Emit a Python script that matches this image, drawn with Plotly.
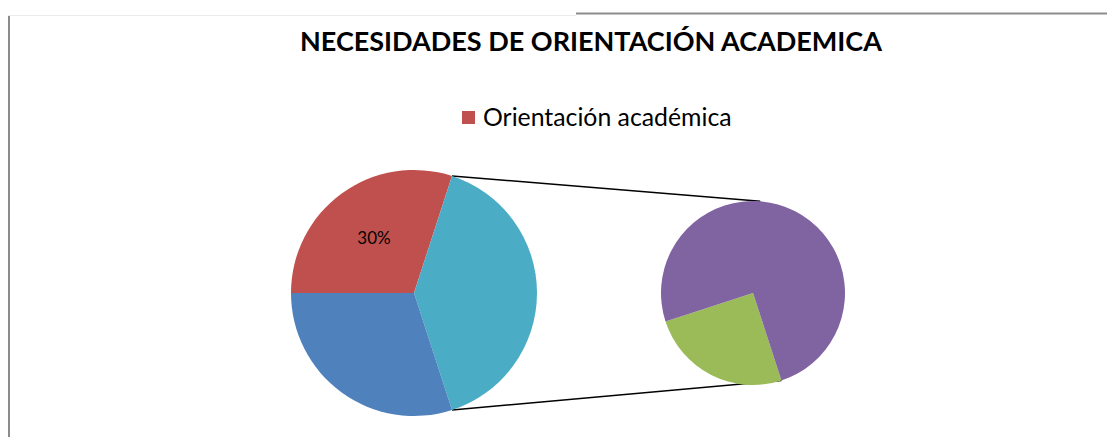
import math
import plotly.graph_objects as go

# ---- data ----
main_labels = ["Orientación académica", "Otro", "Otros (detalle)"]
main_values = [30, 40, 30]          # red, teal (split), blue
main_text = ["30%", "", ""]
main_colors = ["#C0504D", "#4BACC6", "#4F81BD"]

sub_labels = ["Detalle A", "Detalle B"]
sub_values = [10, 30]               # green, purple
sub_colors = ["#9BBB59", "#8064A2"]

title_text = "NECESIDADES DE ORIENTACIÓN ACADEMICA"
legend_text = "Orientación académica"

# page has an 8px body margin; work in window pixels and convert
OFF = 8
W, H = 1115 - OFF, 437 - OFF

def fx(x): return x - OFF
def fy(y): return y - OFF
def px(x): return fx(x) / W
def py(y): return (H - fy(y)) / H

# ---- layout geometry (window pixels) ----
c1 = (414, 293); r1 = 123
c2 = (753, 293); r2 = 92

def dom(c, r):
    return dict(x=[px(c[0] - r), px(c[0] + r)],
                y=[py(c[1] + r), py(c[1] - r)])

main_rot = 270   # first slice starts at 9 o'clock, clockwise
sub_rot = 162

fig = go.Figure()
fig.add_trace(go.Pie(
    labels=main_labels, values=main_values, text=main_text,
    textinfo="text", textposition="inside", insidetextorientation="horizontal",
    textfont=dict(family="Lato", size=17, color="#000000"),
    marker=dict(colors=main_colors, line=dict(width=0)),
    sort=False, direction="clockwise", rotation=main_rot,
    domain=dom(c1, r1), showlegend=False, hoverinfo="label+percent",
))
fig.add_trace(go.Pie(
    labels=sub_labels, values=sub_values, textinfo="none",
    marker=dict(colors=sub_colors, line=dict(width=0)),
    sort=False, direction="clockwise", rotation=sub_rot,
    domain=dom(c2, r2), showlegend=False, hoverinfo="label+value",
))

# connector lines computed from the split slice angles
tot = sum(main_values)
a_start = (main_rot + main_values[0] / tot * 360) % 360
a_end = a_start + main_values[1] / tot * 360

def pt(c, r, ang):
    a = math.radians(ang)
    return (c[0] + r * math.sin(a), c[1] - r * math.cos(a))

p1 = pt(c1, r1, a_start); p2 = pt(c1, r1, a_end)
q1 = pt(c2, r2, 4.5); q2 = pt(c2, r2, sub_rot)

shapes = [
    dict(type="line", xref="paper", yref="paper", x0=px(p1[0]), y0=py(p1[1]),
         x1=px(q1[0]), y1=py(q1[1]), line=dict(color="#000000", width=1.5), layer="below"),
    dict(type="line", xref="paper", yref="paper", x0=px(p2[0]), y0=py(p2[1]),
         x1=px(q2[0]), y1=py(q2[1]), line=dict(color="#000000", width=1.5), layer="below"),
    # frame lines
    dict(type="line", xref="paper", yref="paper", x0=px(9), y0=py(15), x1=px(9), y1=0,
         line=dict(color="#8C8C8C", width=2)),
    dict(type="line", xref="paper", yref="paper", x0=px(8), y0=py(15.5), x1=px(576), y1=py(15.5),
         line=dict(color="#EBEBEB", width=1)),
    dict(type="line", xref="paper", yref="paper", x0=px(576), y0=py(13.5), x1=1, y1=py(13.5),
         line=dict(color="#8C8C8C", width=2)),
    # legend marker
    dict(type="rect", xref="paper", yref="paper", x0=px(462), y0=py(124), x1=px(475), y1=py(111),
         fillcolor=main_colors[0], line=dict(width=0)),
]

annotations = [
    dict(text="<b>" + title_text + "</b>", xref="paper", yref="paper", x=px(591), y=py(40),
         xanchor="center", yanchor="middle", showarrow=False,
         font=dict(family="Lato", size=27, color="#000000")),
    dict(text=legend_text, xref="paper", yref="paper", x=px(481), y=py(117),
         xanchor="left", yanchor="middle", showarrow=False,
         font=dict(family="Lato", size=24.8, color="#000000")),
]

fig.update_layout(
    width=W, height=H, margin=dict(l=0, r=0, t=0, b=0),
    paper_bgcolor="#FFFFFF", plot_bgcolor="#FFFFFF",
    shapes=shapes, annotations=annotations, showlegend=False,
)

fig.write_html("out.html")
